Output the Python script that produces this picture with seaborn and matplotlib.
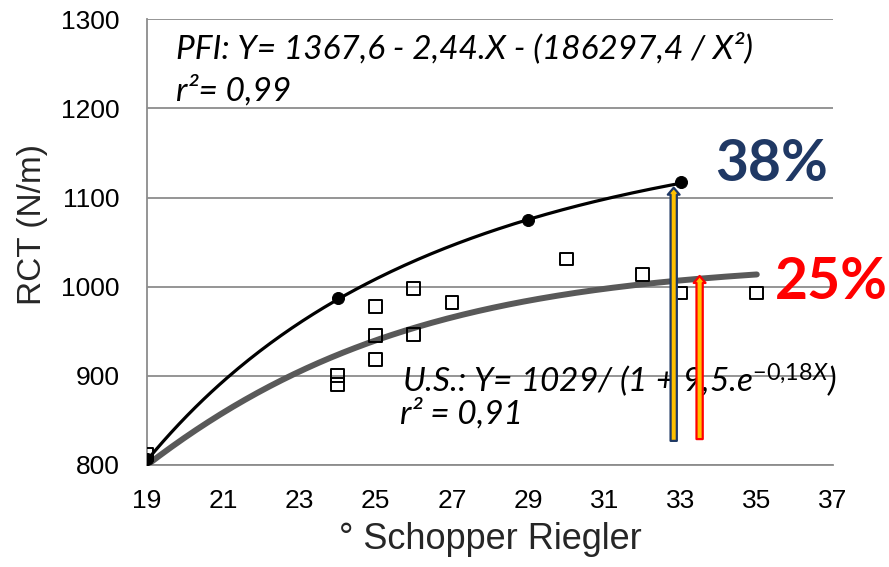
import matplotlib
matplotlib.use('Agg')
import matplotlib.pyplot as plt
import numpy as np
import seaborn as sns

# PFI series (filled circles)
sr_pfi = [19, 24, 29, 33]
rct_pfi = [807, 987, 1075, 1117]

# U.S. series (open squares)
sr_us = [19, 24, 24, 25, 25, 25, 26, 26, 27, 30, 32, 33, 35]
rct_us = [812, 900, 890, 978, 945, 918, 998, 946, 982, 1031, 1014, 993, 993]

# trendline coefficients (as printed on the chart)
pfi_coef = (1367.6, 2.44, 186297.4)   # Y = a - b.X - c/X^2
us_coef = (1029, 9.45, 0.184)         # Y = a / (1 + b.e^(-kX))

# gain arrows: x, start, end
arrow_pfi = (32.82, 827, 1111)
arrow_us = (33.5, 829, 1012)

x_ticks = [19, 21, 23, 25, 27, 29, 31, 33, 35, 37]
y_ticks = [800, 900, 1000, 1100, 1200, 1300]

sns.set_theme(style='white')
plt.rcParams['font.family'] = ['Liberation Sans', 'DejaVu Sans']
plt.rcParams['mathtext.fontset'] = 'custom'
plt.rcParams['mathtext.it'] = 'Lato:italic'
plt.rcParams['mathtext.rm'] = 'Lato'

fig = plt.figure(figsize=(8.89, 5.67), dpi=100)
ax = fig.add_axes([0.1654, 0.180, 0.937 - 0.1654, 0.966 - 0.180])

# trendlines
xf = np.linspace(sr_pfi[0], sr_pfi[-1], 200)
yf = pfi_coef[0] - pfi_coef[1] * xf - pfi_coef[2] / xf ** 2
xu = np.linspace(sr_us[0], sr_us[-1], 200)
yu = us_coef[0] / (1 + us_coef[1] * np.exp(-us_coef[2] * xu))
sns.lineplot(x=xu, y=yu, color='#595959', linewidth=4.3, ax=ax, zorder=3)
sns.lineplot(x=xf, y=yf, color='black', linewidth=2.3, ax=ax, zorder=4)

sns.scatterplot(x=sr_us, y=rct_us, marker='s', s=85, facecolor='none',
                edgecolor='black', linewidth=1.4, ax=ax, zorder=5)
sns.scatterplot(x=sr_pfi, y=rct_pfi, marker='o', s=75, color='black',
                edgecolor='black', ax=ax, zorder=6)

ax.set_xlim(19, 37)
ax.set_ylim(800, 1300)
ax.set_xticks(x_ticks)
ax.set_yticks(y_ticks)
ax.yaxis.grid(True, color='#8c8c8c', linewidth=1.3)
ax.xaxis.grid(False)
for s in ['top', 'right']:
    ax.spines[s].set_visible(False)
for s in ['left', 'bottom']:
    ax.spines[s].set_color('#8c8c8c')
    ax.spines[s].set_linewidth(1.3)
ax.tick_params(axis='both', direction='out', length=6.5, width=1.3,
               color='#8c8c8c', labelsize=19, labelcolor='black')
ax.tick_params(axis='y', pad=13)
ax.tick_params(axis='x', pad=11)
ax.set_xlabel('° Schopper Riegler', fontsize=26, labelpad=6)
ax.set_ylabel('RCT (N/m)', fontsize=24)
ax.yaxis.set_label_coords(-0.145, 0.54)

# equations
eq = dict(family=['Lato', 'DejaVu Sans'], style='italic', fontsize=24,
          va='center', ha='left', color='black')
ax.text(19.76, 1268, 'PFI: Y= 1367,6 - 2,44.X - (186297,4 / X²)', **eq, zorder=7)
ax.text(19.76, 1220, 'r²= 0,99', **eq, zorder=7)
ax.text(25.7, 895, r'U.S.: Y= 1029/ (1 + 9,5.e$^{\mathit{-0{,}18X}}$)', **eq, zorder=7)
ax.text(25.64, 857, 'r² = 0,91', **eq, zorder=7)

# arrows
for (ax_x, y0, y1), ec in [(arrow_pfi, '#1f3864'), (arrow_us, '#ff0000')]:
    ax.annotate('', xy=(ax_x, y1), xytext=(ax_x, y0),
                arrowprops=dict(arrowstyle='simple,head_length=0.5,head_width=0.85,tail_width=0.45',
                                mutation_scale=10, fc='#ffc000', ec=ec, lw=1.6,
                                shrinkA=0, shrinkB=0), zorder=8)

big = dict(family=['Lato', 'DejaVu Sans'], fontweight='bold', fontsize=41,
           va='center', ha='left')
ax.text(33.9, 1137, '38%', color='#1f3864', **big)
ax.text(35.48, 1005, '25%', color='#ff0000', **big)

fig.savefig('out.png', dpi=100)
